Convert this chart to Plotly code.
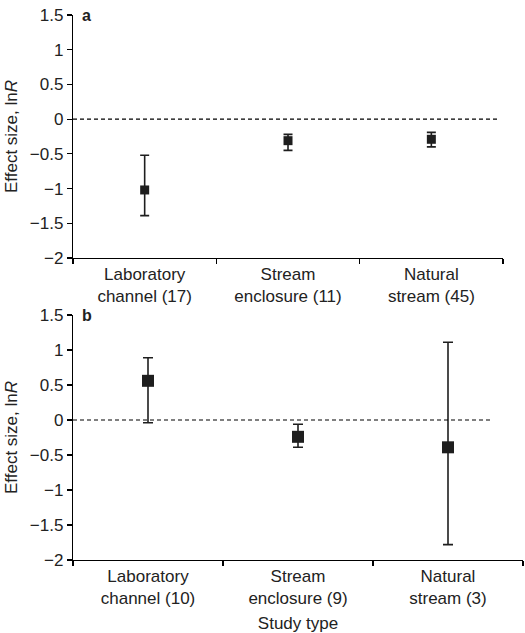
import plotly.graph_objects as go

categories_a = ["Laboratory<br>channel (17)", "Stream<br>enclosure (11)", "Natural<br>stream (45)"]
means_a = [-1.02, -0.31, -0.29]
upper_a = [-0.52, -0.22, -0.19]
lower_a = [-1.39, -0.45, -0.40]

categories_b = ["Laboratory<br>channel (10)", "Stream<br>enclosure (9)", "Natural<br>stream (3)"]
means_b = [0.56, -0.24, -0.39]
upper_b = [0.89, -0.06, 1.11]
lower_b = [-0.04, -0.39, -1.78]

y_ticks = [1.5, 1, 0.5, 0, -0.5, -1, -1.5, -2]

INK = "#1e1e1e"
FONT = dict(family="Liberation Sans, Arial, sans-serif", size=17, color="#222222")

fig = go.Figure()

def add_panel(cats, means, up, lo, xa, ya, msize, capw):
    fig.add_trace(go.Scatter(
        x=cats, y=means, mode="markers",
        marker=dict(symbol="square", size=msize, color=INK),
        error_y=dict(type="data", symmetric=False,
                     array=[u - m for u, m in zip(up, means)],
                     arrayminus=[m - l for m, l in zip(means, lo)],
                     color=INK, thickness=1.6, width=capw),
        xaxis=xa, yaxis=ya, showlegend=False, hoverinfo="skip"))

add_panel(categories_a, means_a, upper_a, lower_a, "x", "y", 9, 4.5)
add_panel(categories_b, means_b, upper_b, lower_b, "x2", "y2", 12, 5)

axis_common = dict(showline=True, linecolor="black", linewidth=1.2, ticks="outside",
                   ticklen=5, tickcolor="black", tickwidth=1.2, showgrid=False,
                   zeroline=False, tickfont=FONT, automargin=False,
                   ticklabeloverflow="allow")

fig.update_layout(
    width=525, height=633,
    margin=dict(l=73, r=2, t=15, b=73),
    paper_bgcolor="white", plot_bgcolor="white",
    font=FONT,
    xaxis=dict(domain=[0, 0.9556], anchor="y", type="category",
               tickson="boundaries", range=[-0.5, 2.5], **axis_common),
    yaxis=dict(domain=[0.5541, 1], anchor="x", range=[-2, 1.5],
               tickvals=y_ticks, **axis_common,
               title=dict(text="Effect size, ln<i>R</i>", font=FONT, standoff=7)),
    xaxis2=dict(domain=[0, 1], anchor="y2", type="category",
                tickson="boundaries", range=[-0.5, 2.5], **axis_common,
                title=dict(text="Study type", font=FONT, standoff=12)),
    yaxis2=dict(domain=[0, 0.4495], anchor="x2", range=[-2, 1.5],
                tickvals=y_ticks, **axis_common,
                title=dict(text="Effect size, ln<i>R</i>", font=FONT, standoff=7)),
    shapes=[
        dict(type="line", xref="x", yref="y", x0=-0.5, x1=2.46, y0=0, y1=0,
             line=dict(color="black", width=1.2, dash="4px,3px")),
        dict(type="line", xref="x2", yref="y2", x0=-0.5, x1=2.3, y0=0, y1=0,
             line=dict(color="black", width=1.2, dash="4px,3px")),
    ],
    annotations=[
        dict(text="<b>a</b>", xref="paper", yref="paper", x=0.016, y=1.0,
             xanchor="left", yanchor="middle", showarrow=False,
             font=dict(family=FONT["family"], size=16, color="#222222")),
        dict(text="<b>b</b>", xref="paper", yref="paper", x=0.016, y=0.4495,
             xanchor="left", yanchor="middle", showarrow=False,
             font=dict(family=FONT["family"], size=16, color="#222222")),
    ],
)

fig.write_html("out.html",
               config={"displayModeBar": False, "staticPlot": True},
               post_script="document.body.style.margin='0';document.body.style.overflow='hidden';")
